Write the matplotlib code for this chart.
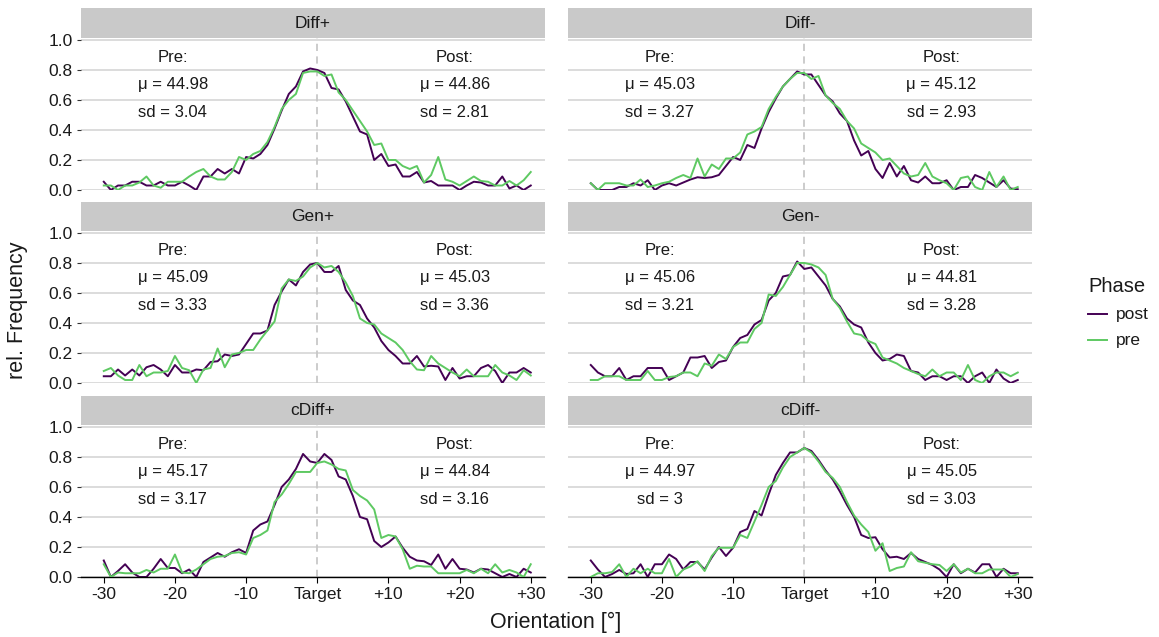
import numpy as np
import matplotlib
matplotlib.use("Agg")
import matplotlib.pyplot as plt
from matplotlib.lines import Line2D

plt.rcParams['font.family'] = ['Liberation Sans', 'DejaVu Sans']

orientation = list(range(-30, 31))
tick_values = [-30, -20, -10, 0, 10, 20, 30]
tick_labels = ["-30", "-20", "-10", "Target", "+10", "+20", "+30"]
y_ticks = [0.0, 0.2, 0.4, 0.6, 0.8, 1.0]
panel_names = ["Diff+", "Diff-", "Gen+", "Gen-", "cDiff+", "cDiff-"]

diffp_post = [0.055,0.0,0.03,0.03,0.055,0.055,0.03,0.03,0.055,0.03,0.03,0.055,0.03,0.0,0.09,0.09,0.14,0.11,0.14,0.11,0.22,0.21,0.24,0.30,0.41,0.53,0.64,0.69,0.79,0.81,0.80,
              0.78,0.68,0.67,0.59,0.49,0.39,0.37,0.20,0.24,0.16,0.17,0.09,0.09,0.12,0.05,0.06,0.03,0.03,0.03,0.0,0.03,0.055,0.05,0.03,0.03,0.09,0.01,0.03,0.0,0.03]
diffp_pre = [0.03,0.03,0.0,0.03,0.03,0.05,0.09,0.03,0.015,0.055,0.055,0.055,0.09,0.12,0.14,0.09,0.07,0.07,0.12,0.22,0.20,0.24,0.26,0.32,0.42,0.54,0.60,0.64,0.78,0.79,0.79,
             0.76,0.77,0.65,0.60,0.53,0.46,0.39,0.30,0.31,0.20,0.20,0.16,0.14,0.16,0.05,0.10,0.22,0.07,0.055,0.03,0.06,0.09,0.06,0.055,0.03,0.03,0.06,0.03,0.065,0.12]
diffm_post = [0.045,0.0,0.0,0.0,0.02,0.02,0.045,0.03,0.065,0.0,0.03,0.045,0.03,0.05,0.07,0.085,0.08,0.085,0.10,0.16,0.22,0.20,0.30,0.28,0.41,0.52,0.61,0.69,0.74,0.79,0.77,
              0.77,0.70,0.63,0.59,0.51,0.46,0.33,0.23,0.26,0.14,0.08,0.18,0.09,0.16,0.065,0.05,0.09,0.045,0.045,0.065,0.0,0.02,0.02,0.10,0.08,0.05,0.02,0.065,0.01,0.005]
diffm_pre = [0.045,0.0,0.045,0.045,0.045,0.03,0.03,0.07,0.02,0.03,0.045,0.055,0.08,0.10,0.08,0.21,0.09,0.17,0.14,0.21,0.21,0.25,0.37,0.39,0.42,0.54,0.62,0.69,0.74,0.78,0.78,
             0.74,0.76,0.63,0.58,0.54,0.46,0.41,0.31,0.28,0.25,0.20,0.21,0.16,0.11,0.09,0.10,0.18,0.09,0.065,0.045,0.0,0.08,0.09,0.02,0.0,0.12,0.02,0.09,0.0,0.02]
genp_post = [0.045,0.045,0.09,0.05,0.09,0.05,0.105,0.12,0.09,0.045,0.12,0.07,0.07,0.09,0.085,0.14,0.145,0.19,0.18,0.19,0.26,0.33,0.33,0.35,0.52,0.61,0.69,0.65,0.74,0.79,0.80,
             0.74,0.74,0.78,0.62,0.55,0.52,0.43,0.37,0.28,0.22,0.18,0.13,0.13,0.18,0.11,0.115,0.11,0.02,0.10,0.03,0.045,0.045,0.10,0.12,0.08,0.0,0.07,0.07,0.10,0.07]
genp_pre = [0.08,0.10,0.05,0.02,0.02,0.12,0.045,0.07,0.07,0.08,0.18,0.10,0.085,0.0,0.09,0.10,0.23,0.105,0.19,0.20,0.22,0.22,0.29,0.35,0.41,0.63,0.69,0.68,0.71,0.77,0.80,
            0.77,0.78,0.74,0.67,0.58,0.43,0.40,0.39,0.33,0.30,0.27,0.22,0.145,0.09,0.085,0.18,0.13,0.10,0.07,0.045,0.09,0.045,0.045,0.045,0.12,0.07,0.05,0.02,0.085,0.05]
genm_post = [0.12,0.07,0.045,0.045,0.10,0.02,0.045,0.045,0.10,0.10,0.10,0.02,0.045,0.07,0.17,0.17,0.18,0.10,0.14,0.15,0.24,0.30,0.32,0.39,0.42,0.55,0.60,0.71,0.72,0.81,0.76,
             0.77,0.71,0.65,0.56,0.51,0.43,0.39,0.37,0.27,0.20,0.15,0.16,0.19,0.18,0.08,0.07,0.02,0.045,0.045,0.02,0.045,0.045,0.0,0.045,0.07,0.0,0.09,0.03,0.0,0.02]
genm_pre = [0.02,0.02,0.045,0.045,0.045,0.02,0.02,0.02,0.08,0.02,0.02,0.04,0.045,0.07,0.07,0.045,0.13,0.115,0.19,0.16,0.24,0.27,0.27,0.36,0.40,0.59,0.58,0.64,0.72,0.80,0.80,
            0.79,0.77,0.72,0.56,0.50,0.41,0.33,0.32,0.28,0.26,0.17,0.15,0.13,0.10,0.08,0.06,0.045,0.09,0.045,0.07,0.07,0.02,0.12,0.02,0.0,0.045,0.07,0.07,0.045,0.07]
cdiffp_post = [0.11,0.0,0.04,0.085,0.03,0.0,0.0,0.055,0.12,0.06,0.06,0.025,0.05,0.0,0.10,0.13,0.16,0.135,0.165,0.185,0.16,0.31,0.35,0.37,0.48,0.60,0.65,0.72,0.82,0.77,0.76,
               0.82,0.78,0.67,0.65,0.54,0.40,0.385,0.24,0.20,0.23,0.27,0.195,0.135,0.11,0.105,0.08,0.15,0.055,0.12,0.055,0.05,0.03,0.055,0.05,0.025,0.0,0.02,0.0,0.055,0.03]
cdiffp_pre = [0.085,0.0,0.03,0.025,0.025,0.025,0.047,0.03,0.055,0.055,0.15,0.03,0.025,0.05,0.085,0.12,0.135,0.14,0.16,0.165,0.15,0.26,0.28,0.31,0.50,0.55,0.62,0.70,0.70,0.70,0.76,
              0.77,0.75,0.72,0.71,0.58,0.54,0.51,0.45,0.26,0.28,0.27,0.185,0.055,0.075,0.07,0.07,0.025,0.025,0.025,0.025,0.047,0.025,0.055,0.025,0.085,0.03,0.047,0.03,0.0,0.085]
cdiffm_post = [0.11,0.05,0.0,0.02,0.047,0.02,0.025,0.085,0.0,0.085,0.085,0.15,0.12,0.05,0.10,0.10,0.05,0.13,0.20,0.14,0.195,0.30,0.32,0.44,0.41,0.55,0.68,0.76,0.83,0.83,0.86,
               0.84,0.78,0.71,0.65,0.57,0.48,0.40,0.28,0.26,0.265,0.185,0.13,0.135,0.12,0.16,0.12,0.10,0.08,0.05,0.0,0.085,0.025,0.055,0.03,0.085,0.085,0.0,0.055,0.025,0.025]
cdiffm_pre = [0.0,0.025,0.025,0.033,0.085,0.0,0.055,0.025,0.055,0.025,0.025,0.12,0.0,0.05,0.07,0.105,0.04,0.14,0.195,0.195,0.195,0.28,0.26,0.37,0.48,0.60,0.64,0.73,0.80,0.83,0.86,
              0.83,0.77,0.70,0.66,0.60,0.50,0.41,0.35,0.30,0.175,0.225,0.04,0.06,0.07,0.165,0.105,0.095,0.085,0.08,0.04,0.085,0.03,0.055,0.025,0.025,0.05,0.05,0.05,0.0,0.02]

post_series = [diffp_post, diffm_post, genp_post, genm_post, cdiffp_post, cdiffm_post]
pre_series = [diffp_pre, diffm_pre, genp_pre, genm_pre, cdiffp_pre, cdiffm_pre]
pre_mu = ["44.98", "45.03", "45.09", "45.06", "45.17", "44.97"]
pre_sd = ["3.04", "3.27", "3.33", "3.21", "3.17", "3"]
post_mu = ["44.86", "45.12", "45.03", "44.81", "44.84", "45.05"]
post_sd = ["2.81", "2.93", "3.36", "3.28", "3.16", "3.03"]
phase_labels = ["post", "pre"]

col_post = "#440154"
col_pre = "#5ec962"
txt_col = "#1a1a1a"

W, H = 1159, 637
fig = plt.figure(figsize=(W / 100, H / 100), dpi=100)

cols = [(81, 545), (568, 1032)]
rows = [(8, 38, 190), (202, 231, 383), (396, 425, 577)]

def rect(x0, y0, x1, y1):
    return [x0 / W, 1 - y1 / H, (x1 - x0) / W, (y1 - y0) / H]

for i, name in enumerate(panel_names):
    r, c = divmod(i, 2)
    x0, x1 = cols[c]
    s0, p0, p1 = rows[r]
    sax = fig.add_axes(rect(x0, s0, x1, p0))
    sax.set_facecolor("#c9c9c9")
    sax.set_xticks([]); sax.set_yticks([])
    for sp in sax.spines.values():
        sp.set_visible(False)
    sax.text(0.5, 0.5, name, ha="center", va="center", fontsize=12.5, color=txt_col,
             transform=sax.transAxes)
    ax = fig.add_axes(rect(x0, p0, x1, p1))
    ax.set_xlim(-33.2, 32.0)
    ax.set_ylim(0, 1.013)
    for sp in ax.spines.values():
        sp.set_visible(False)
    for yv in y_ticks:
        ax.axhline(yv, color="#d6d6d6", lw=1.2, zorder=0)
    ax.axvline(0, color="#c8c8c8", lw=1.3, ls=(0, (4, 3)), zorder=0.5)
    ax.plot(orientation, post_series[i], color=col_post, lw=1.4, zorder=2)
    ax.plot(orientation, pre_series[i], color=col_pre, lw=1.4, zorder=3)
    ax.set_yticks(y_ticks)
    if c == 0:
        ax.set_yticklabels([f"{v:.1f}" for v in y_ticks], fontsize=12.5, color=txt_col)
        ax.tick_params(axis="y", length=3, color="#333333", pad=3)
    else:
        ax.set_yticklabels([])
        ax.tick_params(axis="y", length=0)
    ax.set_xticks(tick_values)
    if r == 2:
        ax.spines["bottom"].set_visible(True)
        ax.spines["bottom"].set_color("black")
        ax.spines["bottom"].set_linewidth(1.0)
        ax.set_xticklabels(tick_labels, fontsize=12.5, color=txt_col)
        ax.tick_params(axis="x", length=4, color="black", pad=3)
    else:
        ax.set_xticklabels([])
        ax.tick_params(axis="x", length=0)
    fs = 12
    ax.text(-20.3, 0.885, "Pre:", ha="center", va="center", fontsize=fs, color=txt_col)
    ax.text(-20.3, 0.70, "\u03bc = " + pre_mu[i], ha="center", va="center", fontsize=fs, color=txt_col)
    ax.text(-20.3, 0.515, "sd = " + pre_sd[i], ha="center", va="center", fontsize=fs, color=txt_col)
    ax.text(19.3, 0.885, "Post:", ha="center", va="center", fontsize=fs, color=txt_col)
    ax.text(19.3, 0.70, "\u03bc = " + post_mu[i], ha="center", va="center", fontsize=fs, color=txt_col)
    ax.text(19.3, 0.515, "sd = " + post_sd[i], ha="center", va="center", fontsize=fs, color=txt_col)

fig.text(18 / W, 1 - 310 / H, "rel. Frequency", rotation=90, ha="center", va="center", fontsize=15.5, color=txt_col)
fig.text(556 / W, 1 - 622 / H, "Orientation [\u00b0]", ha="center", va="center", fontsize=15.5, color=txt_col)

# legend drawn manually
fig.text(1088 / W, 1 - 286 / H, "Phase", ha="left", va="center", fontsize=14.5, color=txt_col)
for k, (lab, col) in enumerate(zip(phase_labels, [col_post, col_pre])):
    yy = 1 - (314 + 26 * k) / H
    fig.add_artist(Line2D([1088 / W, 1107 / W], [yy, yy], color=col, lw=1.4,
                          transform=fig.transFigure))
    fig.text(1116 / W, yy, lab, ha="left", va="center", fontsize=12.5, color=txt_col)

fig.savefig("out.png", dpi=100)
